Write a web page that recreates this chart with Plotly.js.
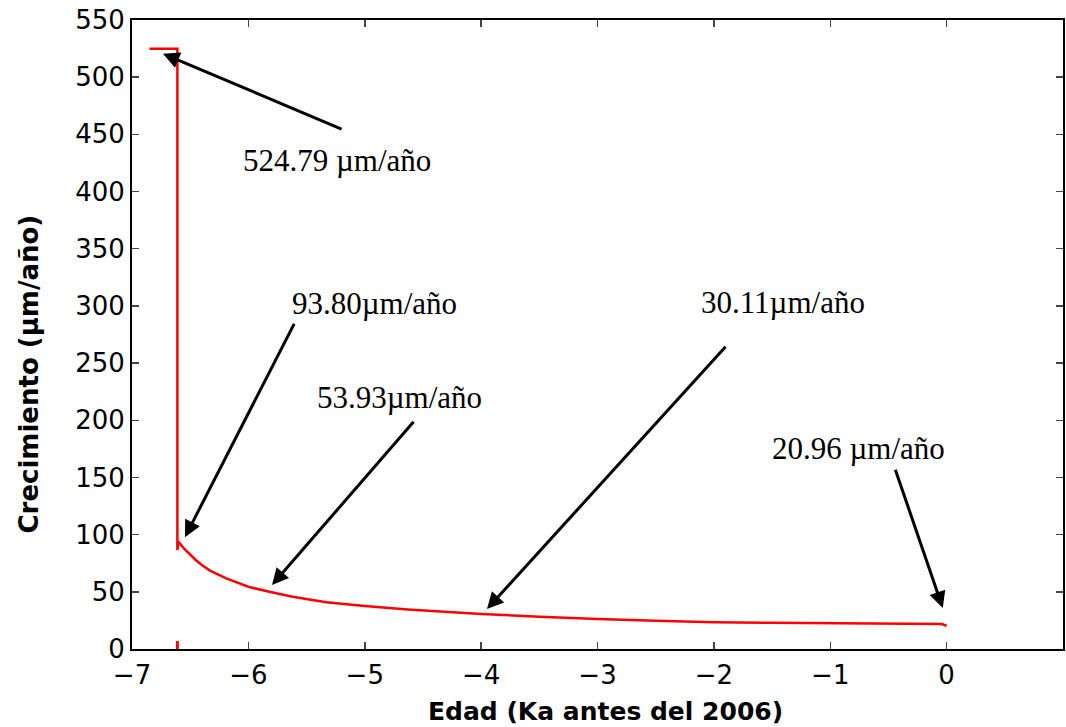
<!DOCTYPE html>
<html>
<head>
<meta charset="utf-8">
<script src="https://cdn.plot.ly/plotly-3.0.1.min.js"></script>
<style>html,body{margin:0;padding:0;background:#fff;}#chart{width:1066px;height:727px;}</style>
</head>
<body>
<div id="chart"></div>
<script>
// Growth series (Ka before 2006 vs growth µm/año)
const edad = [-6.85, -6.61, -6.61, -6.60, -6.55, -6.50, -6.45, -6.40, -6.33, -6.19, -6.00, -5.82, -5.62, -5.33, -5.00, -4.63, -4.00, -3.50, -3.00, -2.50, -2.12, -2.00, -1.50, -1.00, -0.50, -0.04, 0.00];
const crecimiento = [524.79, 524.79, 86.5, 93.8, 87.5, 82.3, 77.6, 73.4, 68.6, 61.7, 54.4, 50.0, 45.7, 40.8, 37.5, 34.6, 30.6, 28.3, 26.2, 24.8, 23.9, 23.3, 22.9, 22.4, 22.1, 21.8, 20.3];
// small mark at the base of the step
const marcaX = [-6.61, -6.61];
const marcaY = [0, 7];

const etiquetas = ["524.79 µm/año", "93.80µm/año", "53.93µm/año", "30.11µm/año", "20.96 µm/año"];
const etiquetaX = [-5.239, -4.912, -4.698, -1.407, -0.754];
const etiquetaY = [427, 302, 220, 303, 175];
const flechaX = [-6.734, -6.545, -5.797, -3.950, -0.033];
const flechaY = [520.5, 97.8, 55.9, 34.9, 35.8];
const colaX = [-5.187, -5.600, -4.569, -1.888, -0.445];
const colaY = [454.1, 285.6, 200.0, 265.5, 158.1];

const xTicks = [-7, -6, -5, -4, -3, -2, -1, 0, 1];
const yTicks = [0, 50, 100, 150, 200, 250, 300, 350, 400, 450, 500, 550];
const tituloX = 'Edad (Ka antes del 2006)';
const tituloY = 'Crecimiento (µm/año)';

const traces = [
  {x: edad, y: crecimiento, mode: 'lines', line: {color: '#ff0000', width: 2.5}, hoverinfo: 'skip'},
  {x: marcaX, y: marcaY, mode: 'lines', line: {color: '#ff0000', width: 3}, hoverinfo: 'skip'}
];

const annotations = [];
for (let i = 0; i < etiquetas.length; i++) {
  annotations.push({
    x: flechaX[i], y: flechaY[i], xref: 'x', yref: 'y',
    ax: colaX[i], ay: colaY[i], axref: 'x', ayref: 'y',
    showarrow: true, arrowhead: 2, arrowsize: 1.1, arrowwidth: 3, arrowcolor: '#000',
    text: ''
  });
  annotations.push({
    x: etiquetaX[i], y: etiquetaY[i], xref: 'x', yref: 'y',
    showarrow: false, text: etiquetas[i],
    font: {family: 'Liberation Serif, Times New Roman, serif', size: 31, color: '#000'},
    xanchor: 'center', yanchor: 'middle'
  });
}
// axis titles placed to match the reference
const titleFont = {family: 'DejaVu Sans, sans-serif', size: 25, color: '#000', weight: 'bold'};
annotations.push({
  xref: 'paper', yref: 'paper', x: 0.50 + 8/931, y: 0, yshift: -62,
  xanchor: 'center', yanchor: 'middle', showarrow: false,
  text: tituloX, font: titleFont
});
annotations.push({
  xref: 'paper', yref: 'paper', x: 0, xshift: -104, y: 0.5, yshift: -40,
  xanchor: 'center', yanchor: 'middle', showarrow: false, textangle: -90,
  text: tituloY, font: Object.assign({}, titleFont, {size: 26})
});

const axisCommon = {
  showgrid: false, zeroline: false, showline: true, linecolor: '#000', linewidth: 2,
  mirror: 'ticks', ticks: 'inside', ticklen: 7, tickwidth: 1.5, tickcolor: '#444',
  tickfont: {family: 'DejaVu Sans, sans-serif', size: 26, color: '#000'}
};

const layout = {
  width: 1066, height: 727,
  margin: {l: 132, r: 3, t: 20, b: 78},
  paper_bgcolor: '#fff', plot_bgcolor: '#fff',
  showlegend: false,
  xaxis: Object.assign({}, axisCommon, {
    range: [-7, 1], tickvals: xTicks, ticktext: xTicks.map(v => v < 0 ? '\u2212' + Math.abs(v) : String(v)),
    ticklabelstandoff: 2
  }),
  yaxis: Object.assign({}, axisCommon, {
    range: [0, 550], tickvals: yTicks, ticktext: yTicks.map(String)
  }),
  annotations: annotations
};

Plotly.newPlot('chart', traces, layout, {displayModeBar: false, staticPlot: true});
</script>
</body>
</html>
